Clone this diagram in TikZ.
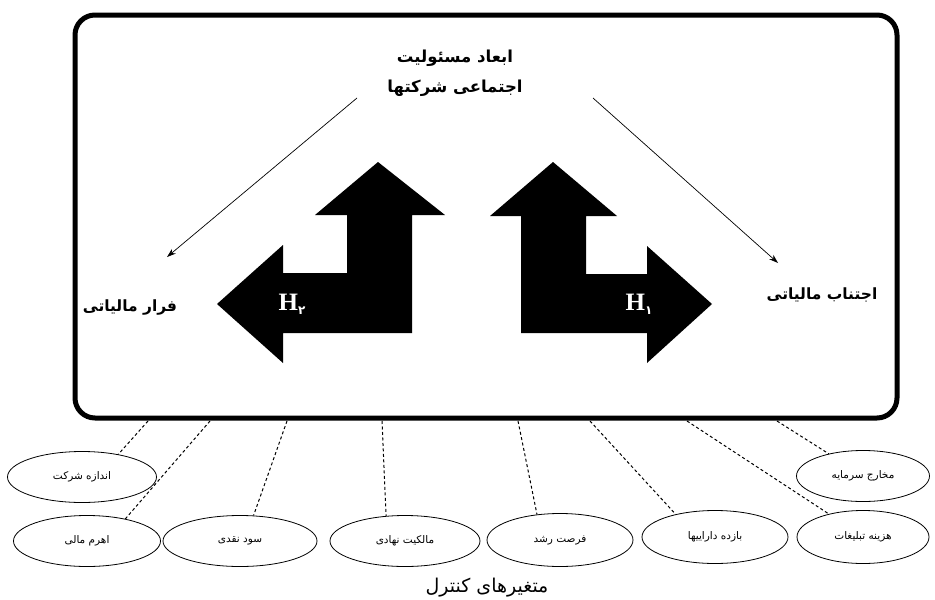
\documentclass[tikz,border=0pt]{standalone}
\usepackage{fontspec}
\usetikzlibrary{shapes.geometric,arrows.meta}
\TeXXeTstate=1
\newfontfamily\arabicfont[Script=Arabic]{DejaVu Sans}
\newfontfamily\hfont{Liberation Serif}
\newcommand{\fatext}[1]{\arabicfont\beginR #1\endR}
\tikzset{
  frame/.style={draw, line width=5pt, rounded corners=20pt, minimum width=822pt, minimum height=403pt, inner sep=0pt},
  bigarrow/.style={fill=black, draw=none},
  headtext/.style={font=\fontsize{16.5}{18}\selectfont\bfseries, inner sep=1pt},
  sidetext/.style={font=\fontsize{15.5}{17}\selectfont\bfseries, inner sep=1pt},
  ctrl/.style={draw, ellipse, line width=0.8pt, minimum height=51pt, inner sep=0pt, font=\fontsize{10.5}{12}\selectfont},
  dashlink/.style={line width=1pt, dash pattern=on 3pt off 2.5pt},
  link/.style={line width=0.7pt, -{Stealth[length=9pt,width=6pt]}},
  hlabel/.style={text=white, inner sep=0pt},
}
\begin{document}
\begin{tikzpicture}[x=1pt,y=-1pt]
\useasboundingbox (0,0) rectangle (935,600);
% main frame
\node[frame] (frame) at (486,216.5) {};
% title
\node[headtext] (t1) at (455,58) {\fatext{ابعاد مسئولیت}};
\node[headtext] (t2) at (455,88) {\fatext{اجتماعی شرکتها}};
% side labels
\node[sidetext] (evasion) at (130,307) {\fatext{فرار مالیاتی}};
\node[sidetext] (avoid) at (822,295) {\fatext{اجتناب مالیاتی}};
% diagonal arrows
\coordinate (sL) at (357,98);
\coordinate (eL) at (167,257);
\coordinate (sR) at (593,98);
\coordinate (eR) at (778,263);
\draw[link] (sL) -- (eL);
\draw[link] (sR) -- (eR);
% big arrows
\fill[bigarrow] (378,162) -- (445,215) -- (412,215) -- (412,333) -- (283,333) -- (283,363) -- (217,304) -- (283,245) -- (283,273) -- (347,273) -- (347,215) -- (315,215) -- cycle;
\fill[bigarrow] (553,162) -- (617,216) -- (586,216) -- (586,274) -- (647,274) -- (647,246) -- (712,304) -- (647,363) -- (647,333) -- (521,333) -- (521,216) -- (490,216) -- cycle;
\node[hlabel] (h2) at (292,304) {{\hfont\bfseries\fontsize{25}{25}\selectfont H}\raisebox{-4pt}{\arabicfont\bfseries\fontsize{12}{12}\selectfont ۲}};
\node[hlabel] (h1) at (639,304) {{\hfont\bfseries\fontsize{25}{25}\selectfont H}\raisebox{-4pt}{\arabicfont\bfseries\fontsize{12}{12}\selectfont ۱}};
% control variables
\node[ctrl, minimum width=149pt] (e1) at (82,477) {\fatext{اندازه شرکت}};
\node[ctrl, minimum width=147pt] (e2) at (87,541) {\fatext{اهرم مالی}};
\node[ctrl, minimum width=154pt] (e3) at (240,541) {\fatext{سود نقدی}};
\node[ctrl, minimum width=150pt] (e4) at (405,541) {\fatext{مالکیت نهادی}};
\node[ctrl, minimum width=146pt, minimum height=53pt] (e5) at (560,540) {\fatext{فرصت رشد}};
\node[ctrl, minimum width=146pt, minimum height=53pt] (e6) at (715,537) {\fatext{بازده داراییها}};
\node[ctrl, minimum width=132pt, minimum height=53pt] (e7) at (863,537) {\fatext{هزینه تبلیغات}};
\node[ctrl, minimum width=133pt] (e8) at (863,476) {\fatext{مخارج سرمایه}};
% dashed links
\coordinate (c1) at (148,421);
\coordinate (c2) at (210,421);
\coordinate (c3) at (287,421);
\coordinate (c4) at (382,421);
\coordinate (c5) at (518,421);
\coordinate (c6) at (590,421);
\coordinate (c7) at (687,421);
\coordinate (c8) at (777,421);
\draw[dashlink] (c1) -- (e1.32);
\draw[dashlink] (c2) -- (e2.30);
\draw[dashlink] (c3) -- (e3.62);
\draw[dashlink] (c4) -- (e4.127);
\draw[dashlink] (c5) -- (e5.132);
\draw[dashlink] (c6) -- (e6.150);
\draw[dashlink] (c7) -- (e7.146);
\draw[dashlink] (c8) -- (e8.147);
% caption
\node[font=\fontsize{19}{21}\selectfont, inner sep=1pt] (cap) at (487,588) {\fatext{متغیرهای کنترل}};
\end{tikzpicture}
\end{document}
